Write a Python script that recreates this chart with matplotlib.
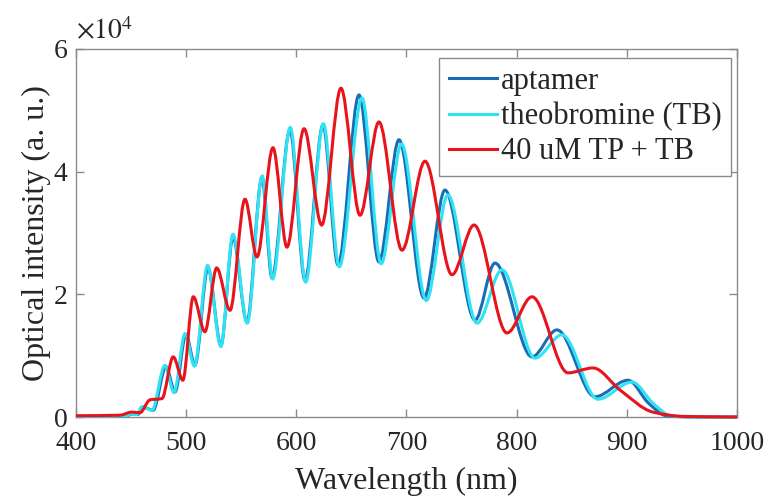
import matplotlib
matplotlib.use("Agg")
import matplotlib.pyplot as plt
import numpy as np
from matplotlib.path import Path
from matplotlib.patches import PathPatch
from matplotlib.lines import Line2D

# values (wavelength in nm, intensity in counts)
aptamer_wl = [400, 445, 452, 456, 460.8, 470, 481.7, 489.9, 499.8, 508.0, 519.8, 531.6,
              542.5, 555.2, 568.8, 577.9, 594.2, 607.9, 624.2, 637.8, 656.9, 675.0,
              693.2, 715.9, 734.9, 762.2, 780.3, 813.9, 836.6, 871.1, 901.0, 920,
              936, 960, 1000]
aptamer_int = [100, 200, 500, 400, 1600, 1100, 8200, 4100, 13400, 8500, 24300, 11700,
               29300, 15500, 39000, 22700, 46800, 22300, 47600, 24800, 52500, 25300,
               45200, 19400, 37000, 15800, 25100, 9800, 14200, 3300, 6000, 2200,
               200, 0, 0]

theobromine_wl = [400, 445, 451, 455, 460, 469, 480.7, 489, 499, 507.5, 519.5, 531.5,
                  542.5, 555.5, 569, 578.5, 594.5, 608.5, 624.5, 639, 659.6, 677,
                  695.5, 718, 737.5, 764, 786.7, 816.6, 841.1, 873.8, 904.7, 924,
                  940, 962, 1000]
theobromine_int = [100, 200, 500, 400, 1700, 1100, 8400, 4000, 13600, 8300, 24700, 11500,
                   29800, 15300, 39300, 22500, 47200, 22000, 47800, 24500, 52000, 25000,
                   44500, 19000, 36200, 15300, 24000, 9600, 13400, 2900, 5700, 2200,
                   200, 0, 0]

mix_wl = [400, 440, 450.5, 458, 467.2, 478, 488.3, 497, 506.5, 517, 527.7, 539.8,
          553.4, 564.3, 578.8, 591.5, 607.0, 623, 640.5, 657.8, 675.0, 695.9,
          716.8, 741.3, 761.3, 791.2, 813.9, 846.6, 869.3, 893.8, 923.7, 951, 1000]
mix_int = [200, 300, 800, 700, 2800, 3000, 9800, 6000, 19600, 13900, 24300, 17400,
           35500, 26100, 43900, 27700, 47000, 31300, 53600, 32900, 48100, 27200,
           41700, 23200, 31300, 13700, 19600, 7200, 8000, 4400, 800, 100, 0]

names = ["aptamer", "theobromine (TB)", "40 uM TP + TB"]
colors = ["#1a6db5", "#2fe3f2", "#e8131b"]


def smooth_path(x, y):
    # monotone cubic (Fritsch-Carlson) through the read points, drawn as bezier segments
    x = np.asarray(x, float)
    y = np.asarray(y, float)
    h = np.diff(x)
    d = np.diff(y) / h
    m = np.zeros_like(x)
    m[0], m[-1] = d[0], d[-1]
    for i in range(1, len(x) - 1):
        if d[i - 1] * d[i] > 0:
            w1 = 2 * h[i] + h[i - 1]
            w2 = h[i] + 2 * h[i - 1]
            m[i] = (w1 + w2) / (w1 / d[i - 1] + w2 / d[i])
    verts = [(x[0], y[0])]
    codes = [Path.MOVETO]
    for i in range(len(h)):
        verts += [(x[i] + h[i] / 3, y[i] + m[i] * h[i] / 3),
                  (x[i + 1] - h[i] / 3, y[i + 1] - m[i + 1] * h[i] / 3),
                  (x[i + 1], y[i + 1])]
        codes += [Path.CURVE4] * 3
    return Path(verts, codes)


def main():
    plt.rcParams['font.family'] = ['Liberation Serif', 'DejaVu Serif']
    plt.rcParams['mathtext.fontset'] = 'stix'

    fig = plt.figure(figsize=(7.69, 5.04), dpi=100)
    ax = fig.add_axes([0.0988, 0.1726, 0.8596, 0.7302])

    series = [(aptamer_wl, aptamer_int), (theobromine_wl, theobromine_int), (mix_wl, mix_int)]
    for (wl, inten), c in zip(series, colors):
        ax.add_patch(PathPatch(smooth_path(wl, inten), facecolor='none', edgecolor=c,
                               lw=2.2, clip_on=False, zorder=3))

    ax.set_xlim(400, 1000)
    ax.set_ylim(0, 60000)
    ax.set_xticks(range(400, 1001, 100))
    ax.set_yticks([0, 20000, 40000, 60000])
    ax.set_yticklabels(["0", "2", "4", "6"])

    grey = "#8a8a8a"
    for s in ax.spines.values():
        s.set_color(grey)
        s.set_linewidth(1.0)
    ax.tick_params(direction='in', length=6, width=1.0, color=grey, labelsize=20,
                   labelcolor="#262626", top=True, right=True, pad=6)
    ax.tick_params(axis='x', pad=10)

    ax.set_xlabel("Wavelength (nm)", fontsize=23, color="#262626", labelpad=8)
    ax.set_ylabel("Optical intensity (a. u.)", fontsize=23, color="#262626", labelpad=2)
    ax.text(0.0, 1.01, r"$\times10^4$", transform=ax.transAxes, fontsize=20,
            color="#262626", ha='left', va='bottom')

    handles = [Line2D([], [], color=c, lw=2.2) for c in colors]
    leg = ax.legend(handles, names, loc='upper right', bbox_to_anchor=(0.991, 0.976),
                    borderaxespad=0, fontsize=22, fancybox=False, framealpha=1,
                    edgecolor=grey, handlelength=1.6, handletextpad=0.12,
                    labelspacing=0.2, borderpad=0.3)
    leg.get_frame().set_linewidth(1.0)
    for t in leg.get_texts():
        t.set_color("#262626")

    fig.savefig("out.png", dpi=100)


if __name__ == "__main__":
    main()
